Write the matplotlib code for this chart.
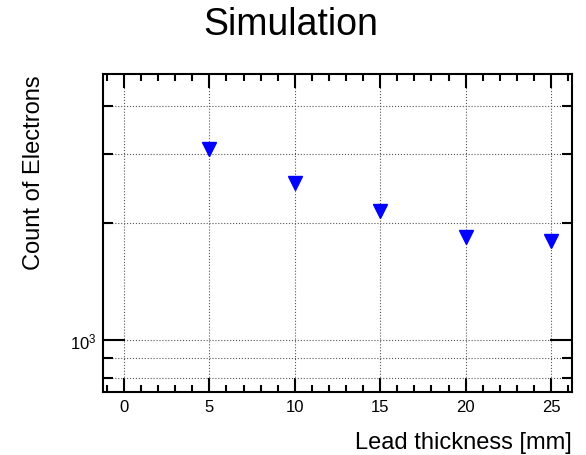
import matplotlib
matplotlib.use("Agg")
import matplotlib.pyplot as plt
import numpy as np
from matplotlib.ticker import LogLocator, FixedLocator, MultipleLocator, NullFormatter

plt.rcParams['font.family'] = ['Liberation Sans', 'DejaVu Sans']
plt.rcParams['mathtext.fontset'] = 'custom'
plt.rcParams['mathtext.rm'] = 'Liberation Sans'
plt.rcParams['mathtext.it'] = 'Liberation Sans'

# lead thickness scan, electron counts from simulation
thickness = [5, 10, 15, 20, 25]
electrons = [3100, 2535, 2145, 1840, 1797]

fig = plt.figure(figsize=(5.86, 4.56), dpi=100)
ax = fig.add_axes([0.1758, 0.1382, 0.8003, 0.6973])

ax.plot(thickness, electrons, linestyle='none', marker='v', markersize=10,
        color='#0000ff', zorder=3)

ax.set_yscale('log')
ax.set_xlim(-1.23, 26.23)
ax.set_ylim(735, 4830)

ax.xaxis.set_major_locator(MultipleLocator(5))
ax.xaxis.set_minor_locator(MultipleLocator(1))
ax.yaxis.set_major_locator(FixedLocator([1000]))
ax.yaxis.set_minor_locator(FixedLocator([800, 900, 2000, 3000, 4000]))
ax.yaxis.set_minor_formatter(NullFormatter())
ax.set_yticklabels([r'$10^{3}$'])

ax.tick_params(which='both', direction='in', top=True, right=True, width=1.5,
               labelsize=12)
ax.tick_params(axis='x', which='major', length=10, pad=5)
ax.tick_params(axis='x', which='minor', length=5)
ax.tick_params(axis='y', which='major', length=16, pad=5)
ax.tick_params(axis='y', which='minor', length=7)
for s in ax.spines.values():
    s.set_linewidth(1.5)

ax.grid(True, which='major', linestyle=':', color='#555555', linewidth=0.8)
ax.grid(True, axis='y', which='minor', linestyle=':', color='#555555', linewidth=0.8)

ax.set_xlabel('Lead thickness [mm]', fontsize=17, loc='right', labelpad=12)
ax.set_ylabel('Count of Electrons', fontsize=17, loc='top', labelpad=18)
fig.suptitle('Simulation', fontsize=27, x=0.497, y=0.985)

fig.savefig('out.png', dpi=100)
